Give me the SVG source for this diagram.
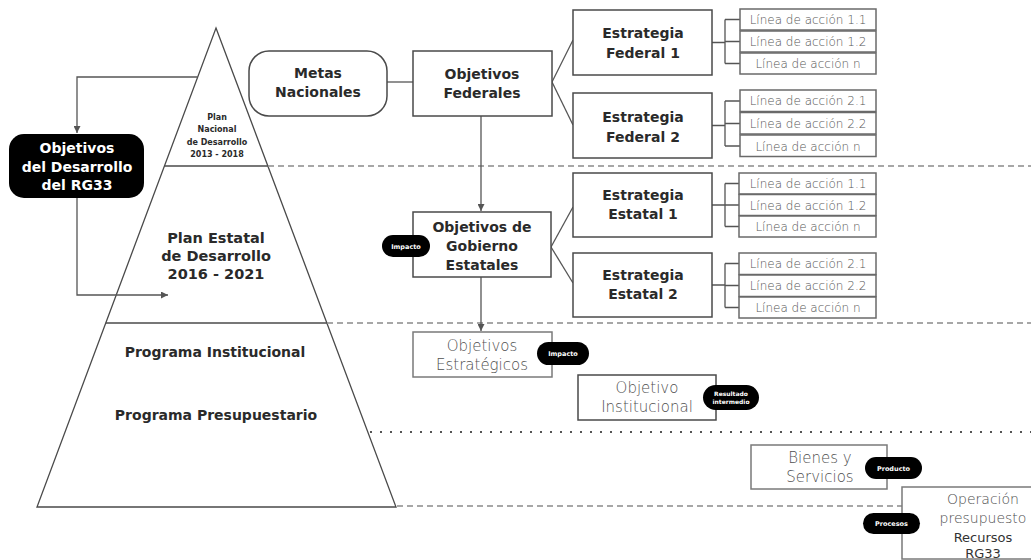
<svg xmlns="http://www.w3.org/2000/svg" width="1031" height="560" viewBox="0 0 1031 560">
<style>
.bg{fill:#fff}
.box{fill:#fff;stroke:#4a4a4a;stroke-width:1.5}
.lbox{fill:#fff;stroke:#6a6a6a;stroke-width:1.5}
.gbox{fill:#fff;stroke:#7a7a7a;stroke-width:1.5}
.pill{fill:#000}
.conn{fill:none;stroke:#555;stroke-width:1.3}
.dash{fill:none;stroke:#8a8a8a;stroke-width:1.5;stroke-dasharray:6 4}
.dot{fill:none;stroke:#555;stroke-width:2;stroke-dasharray:2 8}
.pyr{fill:none;stroke:#4a4a4a;stroke-width:1.3}
.b{font-family:"DejaVu Sans","Liberation Sans",sans-serif;font-weight:bold;fill:#2a2a2a;text-anchor:middle}
.w{font-family:"DejaVu Sans","Liberation Sans",sans-serif;font-weight:bold;fill:#fff;text-anchor:middle}
.l{font-family:"DejaVu Sans","Liberation Sans",sans-serif;font-weight:300;fill:#4f4f4f;text-anchor:middle}
.ln{font-family:"DejaVu Sans","Liberation Sans",sans-serif;font-weight:300;fill:#555;text-anchor:middle;font-size:12px}
</style>
<defs>
<marker id="arr" markerUnits="userSpaceOnUse" markerWidth="7" markerHeight="7" refX="7" refY="3.5" orient="auto">
<path d="M0,0 L7,3.5 L0,7 z" fill="#555"/>
</marker>
</defs>
<rect class="bg" x="0" y="0" width="1031" height="560"/>

<g id="pyramid">
<polygon class="pyr" points="216,28 396,507 37,507"/>
<line class="pyr" x1="164.4" y1="166" x2="267.9" y2="166"/>
<line class="pyr" x1="105.8" y1="323" x2="326.9" y2="323"/>
<text class="b" font-size="8" x="217" y="120">Plan</text>
<text class="b" font-size="8" x="217" y="132">Nacional</text>
<text class="b" font-size="8" x="217" y="144.5">de Desarrollo</text>
<text class="b" font-size="8" x="217" y="157">2013 - 2018</text>
<text class="b" font-size="14.5" x="216" y="243">Plan Estatal</text>
<text class="b" font-size="14.5" x="216" y="261">de Desarrollo</text>
<text class="b" font-size="14.5" x="216" y="279">2016 - 2021</text>
<text class="b" font-size="14" x="215" y="357">Programa Institucional</text>
<text class="b" font-size="14" x="216" y="420">Programa Presupuestario</text>
</g>

<g id="guides">
<line class="dash" x1="268" y1="166" x2="1031" y2="166"/>
<line class="dash" x1="327" y1="323" x2="1031" y2="323"/>
<line class="dot" x1="370" y1="432" x2="1031" y2="432"/>
<line class="dash" x1="397" y1="506" x2="902" y2="506"/>
</g>

<g id="connectors">
<polyline class="conn" points="197.7,77 77,77 77,133" marker-end="url(#arr)"/>
<polyline class="conn" points="77,198 77,295 168,295" marker-end="url(#arr)"/>
<line class="conn" x1="387" y1="82" x2="413" y2="82"/>
<line class="conn" x1="481" y1="116" x2="481" y2="211" marker-end="url(#arr)"/>
<line class="conn" x1="481" y1="277" x2="481" y2="331" marker-end="url(#arr)"/>
<line class="conn" x1="552" y1="82" x2="573" y2="40"/>
<line class="conn" x1="552" y1="82" x2="573" y2="125"/>
<line class="conn" x1="551" y1="247" x2="573" y2="207"/>
<line class="conn" x1="551" y1="247" x2="573" y2="283"/>
<path class="conn" d="M712,42.5 H725 M725,19.5 V63.5 M725,19.5 H740 M725,41.5 H740 M725,63.5 H740"/>
<path class="conn" d="M712,125.5 H725 M725,101 V146 M725,101 H740 M725,123.5 H740 M725,146 H740"/>
<path class="conn" d="M712,205 H725 M725,183.5 V226.5 M725,183.5 H739 M725,205 H739 M725,226.5 H739"/>
<path class="conn" d="M712,285 H725 M725,263.5 V307.5 M725,263.5 H739 M725,285.5 H739 M725,307.5 H739"/>
</g>

<g id="objetivos-rg33">
<rect x="9" y="134" width="135" height="64" rx="15" fill="#000"/>
<text class="w" font-size="14" x="77" y="153">Objetivos</text>
<text class="w" font-size="14" x="77" y="172">del Desarrollo</text>
<text class="w" font-size="14" x="77" y="190">del RG33</text>
</g>

<g id="metas-nacionales">
<rect class="box" x="249" y="51" width="138" height="65" rx="20"/>
<text class="b" font-size="14" x="318" y="78">Metas</text>
<text class="b" font-size="14" x="318" y="97">Nacionales</text>
</g>

<g id="objetivos-federales">
<rect class="box" x="413" y="51" width="139" height="65"/>
<text class="b" font-size="14" x="482" y="79">Objetivos</text>
<text class="b" font-size="14" x="482" y="98">Federales</text>
</g>

<g id="estrategia-federal-1">
<rect class="box" x="573" y="10" width="139" height="65"/>
<text class="b" font-size="14" x="643" y="38">Estrategia</text>
<text class="b" font-size="14" x="643" y="58">Federal 1</text>
</g>

<g id="estrategia-federal-2">
<rect class="box" x="573" y="93" width="139" height="65"/>
<text class="b" font-size="14" x="643" y="122">Estrategia</text>
<text class="b" font-size="14" x="643" y="142">Federal 2</text>
</g>

<g id="lineas-federal-1">
<rect class="lbox" x="740" y="9" width="136" height="21"/>
<rect class="lbox" x="740" y="31" width="136" height="21"/>
<rect class="lbox" x="740" y="53" width="136" height="21"/>
<text class="ln" x="808" y="24">Línea de acción 1.1</text>
<text class="ln" x="808" y="46">Línea de acción 1.2</text>
<text class="ln" x="808" y="68">Línea de acción n</text>
</g>

<g id="lineas-federal-2">
<rect class="lbox" x="740" y="90" width="136" height="21.5"/>
<rect class="lbox" x="740" y="112.5" width="136" height="21.5"/>
<rect class="lbox" x="740" y="135" width="136" height="21.5"/>
<text class="ln" x="808" y="105">Línea de acción 2.1</text>
<text class="ln" x="808" y="128">Línea de acción 2.2</text>
<text class="ln" x="808" y="150.5">Línea de acción n</text>
</g>

<g id="objetivos-gobierno-estatales">
<rect class="box" x="413" y="212" width="138" height="65"/>
<text class="b" font-size="14" x="482" y="232">Objetivos de</text>
<text class="b" font-size="14" x="482" y="251">Gobierno</text>
<text class="b" font-size="14" x="482" y="270">Estatales</text>
<rect class="pill" x="382" y="235" width="48" height="22" rx="11"/>
<text class="w" font-size="6.5" x="406" y="248.5">Impacto</text>
</g>

<g id="estrategia-estatal-1">
<rect class="box" x="573" y="173" width="139" height="64"/>
<text class="b" font-size="14" x="643" y="200">Estrategia</text>
<text class="b" font-size="14" x="643" y="219">Estatal 1</text>
</g>

<g id="estrategia-estatal-2">
<rect class="box" x="573" y="253" width="139" height="64"/>
<text class="b" font-size="14" x="643" y="280">Estrategia</text>
<text class="b" font-size="14" x="643" y="299">Estatal 2</text>
</g>

<g id="lineas-estatal-1">
<rect class="lbox" x="739" y="173" width="137" height="21"/>
<rect class="lbox" x="739" y="194.5" width="137" height="21"/>
<rect class="lbox" x="739" y="216" width="137" height="21"/>
<text class="ln" x="808" y="188">Línea de acción 1.1</text>
<text class="ln" x="808" y="209.5">Línea de acción 1.2</text>
<text class="ln" x="808" y="231">Línea de acción n</text>
</g>

<g id="lineas-estatal-2">
<rect class="lbox" x="739" y="253" width="137" height="21.5"/>
<rect class="lbox" x="739" y="275" width="137" height="21.5"/>
<rect class="lbox" x="739" y="297" width="137" height="21"/>
<text class="ln" x="808" y="268">Línea de acción 2.1</text>
<text class="ln" x="808" y="290">Línea de acción 2.2</text>
<text class="ln" x="808" y="311.5">Línea de acción n</text>
</g>

<g id="objetivos-estrategicos">
<rect class="gbox" x="413" y="332" width="139" height="45"/>
<text class="l" font-size="15" x="482" y="351">Objetivos</text>
<text class="l" font-size="15" x="482" y="370">Estratégicos</text>
<rect class="pill" x="537" y="342" width="52" height="23" rx="11.5"/>
<text class="w" font-size="6.5" x="563" y="355.5">Impacto</text>
</g>

<g id="objetivo-institucional">
<rect class="box" x="578" y="375" width="138" height="45"/>
<text class="l" font-size="15" x="647" y="393">Objetivo</text>
<text class="l" font-size="15" x="647" y="412">Institucional</text>
<rect class="pill" x="703" y="385" width="56" height="25" rx="12.5"/>
<text class="w" font-size="6" x="731" y="396">Resultado</text>
<text class="w" font-size="6" x="731" y="404">intermedio</text>
</g>

<g id="bienes-servicios">
<rect class="gbox" x="751" y="445" width="136" height="44"/>
<text class="l" font-size="15" x="820" y="463">Bienes y</text>
<text class="l" font-size="15" x="820" y="482">Servicios</text>
<rect class="pill" x="865" y="457" width="57" height="22" rx="11"/>
<text class="w" font-size="6.5" x="893.5" y="470.5">Producto</text>
</g>

<g id="operacion-presupuesto">
<rect class="gbox" x="902" y="487" width="140" height="72"/>
<text class="l" font-size="14" x="983" y="504">Operación</text>
<text class="l" font-size="14" x="983" y="523">presupuesto</text>
<text class="b" font-size="13" x="983" y="542" style="font-weight:normal;fill:#333">Recursos</text>
<text class="b" font-size="13" x="983" y="558" style="font-weight:normal;fill:#333">RG33</text>
<rect class="pill" x="863" y="513" width="57" height="21" rx="10.5"/>
<text class="w" font-size="6.5" x="891.5" y="526">Procesos</text>
</g>
</svg>
